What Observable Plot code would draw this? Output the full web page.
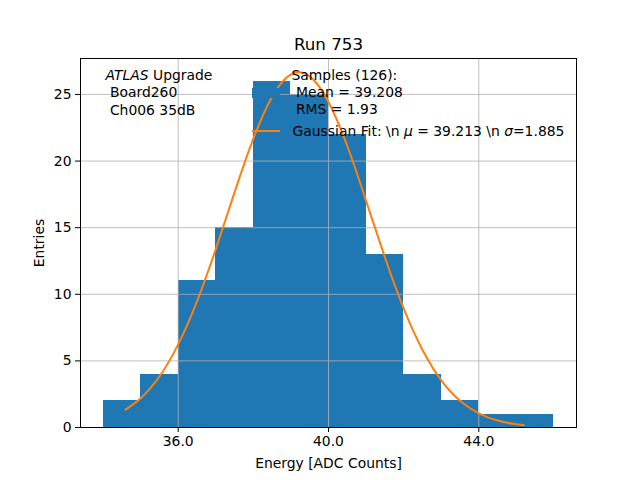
<!DOCTYPE html>
<html><head><meta charset="utf-8">
<script src="https://cdn.jsdelivr.net/npm/d3@7"></script>
<script src="https://cdn.jsdelivr.net/npm/@observablehq/plot@0.6"></script>
<style>
body{margin:0;background:#fff}
svg{font-family:"DejaVu Sans",sans-serif}
svg text{white-space:pre}
</style>
</head><body><div id="chart"></div>
<script>
// Histogram (bin edges and counts)
const binEdges = [34,35,36,37,38,39,40,41,42,43,44,45,46];
const counts = [2,4,11,15,26,25,22,13,4,2,1,1];
// Gaussian fit curve
const fitX = [34.6,35,35.5,36,36.5,37,37.5,38,38.5,39,39.5,40,40.5,41,41.5,42,42.5,43,43.5,44,44.5,45,45.2];
const fitY = [1.34,2.19,3.83,6.24,9.47,13.39,17.65,21.68,24.83,26.5,26.36,24.44,21.13,17.02,12.78,8.94,5.83,3.54,2.01,1.06,0.52,0.24,0.17];
// Ticks
const xTicks = [36,40,44];
const yTicks = [0,5,10,15,20,25];
// Texts
const titleText = "Run 753";
const xLabel = "Energy [ADC Counts]";
const yLabel = "Entries";
const infoText = "ATLAS Upgrade\n Board260\n Ch006 35dB";
const legendHist = "Samples (126):\n Mean = 39.208\n RMS = 1.93";
const legendFit = "Gaussian Fit: \\n μ = 39.213 \\n σ=1.885";

const bins = counts.map((c,i)=>({lo:binEdges[i],hi:binEdges[i+1],count:c}));
const fit = fitX.map((x,i)=>({x,y:fitY[i]}));

const BLUE = "#1f77b4", ORANGE = "#ff7f0e", GRID = "#b0b0b0";
const FS = 13.9;

const svg = Plot.plot({
  width:640, height:480,
  marginLeft:80, marginRight:64, marginTop:58, marginBottom:53,
  style:{fontFamily:"DejaVu Sans", fontSize:FS+"px", background:"white", color:"black", overflow:"visible"},
  x:{domain:[33.4,46.6]},
  y:{domain:[0,27.7]},
  marks:[
    Plot.rectY(bins,{x1:"lo",x2:"hi",y:"count",fill:BLUE,shapeRendering:"crispEdges"}),
    Plot.gridX(xTicks,{stroke:GRID,strokeOpacity:1,strokeWidth:0.8}),
    Plot.gridY(yTicks,{stroke:GRID,strokeOpacity:1,strokeWidth:0.8}),
    Plot.line(fit,{x:"x",y:"y",stroke:ORANGE,strokeWidth:2,curve:"natural"}),
    Plot.frame({stroke:"black",strokeWidth:1}),
    Plot.axisX(xTicks,{tickFormat:d3.format(".1f"),tickSize:5,tickPadding:4,fontSize:FS,
      label:xLabel,labelAnchor:"center",labelArrow:"none",labelOffset:40}),
    Plot.axisY(yTicks,{tickFormat:d3.format("d"),tickSize:5,tickPadding:4,fontSize:FS,
      label:yLabel,labelAnchor:"center",labelArrow:"none",labelOffset:46}),
    Plot.text([titleText],{text:d=>d,frameAnchor:"top",dy:-14,fontSize:16.7,lineAnchor:"middle"}),
    Plot.text([infoText],{text:d=>d,frameAnchor:"top-left",textAnchor:"start",lineAnchor:"top",dx:25,dy:9,lineHeight:1.25,fontSize:FS}),
    Plot.text([legendHist],{text:d=>d,frameAnchor:"top-left",textAnchor:"start",lineAnchor:"top",dx:211,dy:10,lineHeight:1.2,fontSize:FS}),
    Plot.text([legendFit],{text:d=>d,frameAnchor:"top-left",textAnchor:"start",lineAnchor:"middle",dx:212,dy:73,fontSize:FS})
  ]
});

// Italicize ATLAS and Greek symbols (mathtext style)
function italicize(root, re){
  const walker = document.createTreeWalker(root, NodeFilter.SHOW_TEXT);
  const nodes = [];
  while (walker.nextNode()) nodes.push(walker.currentNode);
  for (const n of nodes){
    if (!re.test(n.nodeValue)) continue;
    const parts = n.nodeValue.split(re);
    const frag = document.createDocumentFragment();
    parts.forEach((p,i)=>{
      if (!p) return;
      if (i%2===1){
        const t = document.createElementNS("http://www.w3.org/2000/svg","tspan");
        t.setAttribute("font-style","italic");
        t.textContent = p;
        frag.appendChild(t);
      } else frag.appendChild(document.createTextNode(p));
    });
    n.parentNode.replaceChild(frag, n);
  }
}
italicize(svg, /(ATLAS|μ|σ)/);

// Legend handles
const g = d3.select(svg).append("g");
g.append("rect").attr("x",252).attr("y",88).attr("width",28).attr("height",10).attr("fill",BLUE);
g.append("line").attr("x1",252).attr("x2",280).attr("y1",131).attr("y2",131).attr("stroke",ORANGE).attr("stroke-width",2);

document.getElementById("chart").appendChild(svg);
</script>
</body></html>
